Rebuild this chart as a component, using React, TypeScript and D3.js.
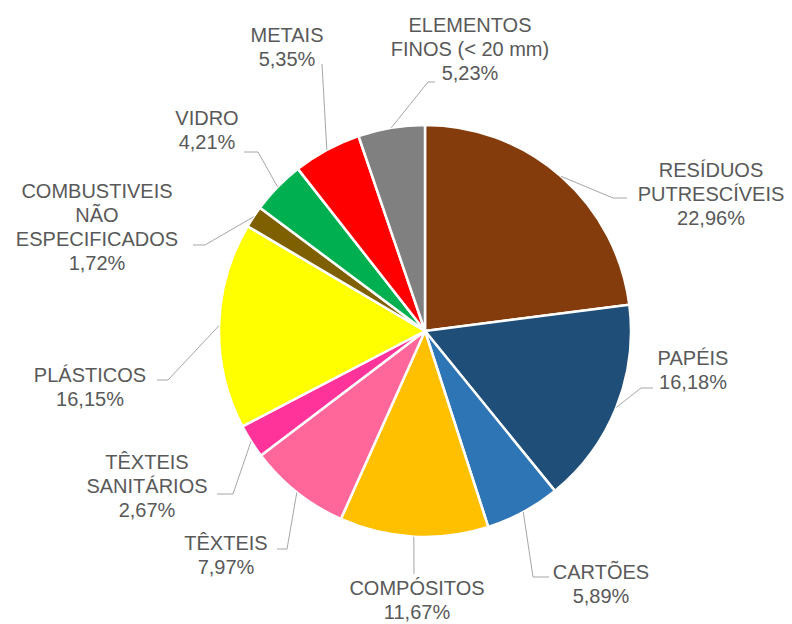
import React from "react";
import * as d3 from "d3";

const categories = [
  ["RESÍDUOS", "PUTRESCÍVEIS"],
  ["PAPÉIS"],
  ["CARTÕES"],
  ["COMPÓSITOS"],
  ["TÊXTEIS"],
  ["TÊXTEIS", "SANITÁRIOS"],
  ["PLÁSTICOS"],
  ["COMBUSTIVEIS", "NÃO", "ESPECIFICADOS"],
  ["VIDRO"],
  ["METAIS"],
  ["ELEMENTOS", "FINOS (< 20 mm)"],
];
const values = [22.96, 16.18, 5.89, 11.67, 7.97, 2.67, 16.15, 1.72, 4.21, 5.35, 5.23];
const valueLabels = ["22,96%", "16,18%", "5,89%", "11,67%", "7,97%", "2,67%", "16,15%", "1,72%", "4,21%", "5,35%", "5,23%"];
const colors = ["#843C0C", "#1F4E79", "#2E75B6", "#FFC000", "#FF6699", "#FF3399", "#FFFF00", "#7F6000", "#00B050", "#FF0000", "#808080"];

// label layout: text center x, first baseline y, leader elbow (x,y), leader end x
const labelLayout = [
  { cx: 711, by: 177, ex: 613, ey: 198, endX: 627 },
  { cx: 693, by: 365, ex: 641, ey: 388, endX: 653 },
  { cx: 601, by: 579, ex: 533, ey: 577, endX: 549 },
  { cx: 417, by: 595, ex: 414, ey: 574, endX: 414 },
  { cx: 226, by: 550, ex: 287, ey: 549, endX: 277 },
  { cx: 147, by: 469, ex: 233, ey: 494, endX: 217 },
  { cx: 90, by: 382, ex: 168, ey: 380, endX: 157 },
  { cx: 97, by: 198, ex: 205, ey: 245, endX: 193 },
  { cx: 207, by: 125, ex: 258, ey: 152, endX: 244 },
  { cx: 287, by: 42, ex: 322, ey: 64, endX: 322 },
  { cx: 470, by: 32, ex: 428, ey: 82, endX: 435 },
];

const W = 792;
const H = 624;
const CX = 425;
const CY = 331;
const R = 206;
const LINE_H = 24;

export default function App() {
  const pie = d3.pie<number>().sort(null).value((d) => d);
  const arcs = pie(values);
  const arcGen = d3.arc<d3.PieArcDatum<number>>().innerRadius(0).outerRadius(R);

  return (
    <svg width={W} height={H} style={{ position: "absolute", left: 0, top: 0, background: "#fff" }}>
      <rect width={W} height={H} fill="#fff" />
      <g transform={`translate(${CX},${CY})`}>
        {arcs.map((a, i) => (
          <path key={i} d={arcGen(a) || ""} fill={colors[i]} stroke="#fff" strokeWidth={2.5} strokeLinejoin="round" />
        ))}
      </g>
      {arcs.map((a, i) => {
        const mid = (a.startAngle + a.endAngle) / 2;
        const sx = CX + R * Math.sin(mid);
        const sy = CY - R * Math.cos(mid);
        const L = labelLayout[i];
        const pts = `${sx},${sy} ${L.ex},${L.ey} ${L.endX},${L.ey}`;
        return <polyline key={"l" + i} points={pts} fill="none" stroke="#A6A6A6" strokeWidth={1} />;
      })}
      {categories.map((lines, i) => {
        const L = labelLayout[i];
        const all = [...lines, valueLabels[i]];
        return (
          <text key={"t" + i} textAnchor="middle" fontFamily="'Liberation Sans', Arial, sans-serif" fontSize={20} fill="#595959">
            {all.map((s, j) => (
              <tspan key={j} x={L.cx} y={L.by + j * LINE_H}>
                {s}
              </tspan>
            ))}
          </text>
        );
      })}
    </svg>
  );
}
